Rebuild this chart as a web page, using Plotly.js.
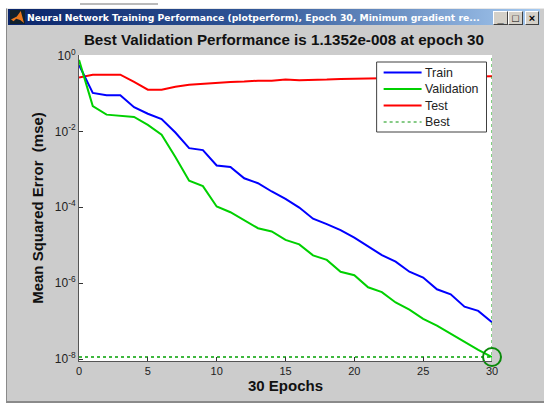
<!DOCTYPE html>
<html>
<head>
<meta charset="utf-8">
<script src="https://cdn.plot.ly/plotly-3.0.1.min.js"></script>
<style>
html,body{margin:0;padding:0;background:#fff;width:544px;height:405px;overflow:hidden}
#win{position:absolute;left:6px;top:8px;width:538px;height:395px;background:#cccccc;border-left:1px solid #8a8a8a;border-top:1px solid #e8e8e8;border-bottom:2px solid #8a8a8a;box-sizing:border-box}
#bar{position:absolute;left:8px;top:9px;width:532px;height:16px;background:linear-gradient(90deg,#0a246a 0%,#2f5596 45%,#a6caf0 100%)}
#ico{position:absolute;left:10px;top:10px;width:15px;height:14px;background:#10202c}
#ico i{position:absolute;left:1px;top:1px;width:13px;height:12px;background:#e8761c;clip-path:polygon(0 70%,45% 45%,75% 0,100% 100%,70% 75%,40% 65%,20% 85%)}
.b{position:absolute;top:11px;height:14px;background:#d4d0c8;border:1px solid;border-color:#fff #404040 #404040 #fff;box-sizing:border-box;font:bold 11px/12px "Liberation Sans",sans-serif;color:#000;text-align:center}
#scrap{position:absolute;left:80px;top:3px;width:78px;height:2px;background:#8c8c8c;opacity:.6}
#plot{position:absolute;left:0;top:0;width:544px;height:405px}
</style>
</head>
<body>
<div id="scrap"></div>
<div id="win"></div>
<div id="bar"></div>
<div id="ico"><i></i></div>
<div class="b" style="left:493px;width:15px">_</div>
<div class="b" style="left:508px;width:15px">&#9633;</div>
<div class="b" style="left:525px;width:14px">&#215;</div>
<div id="plot"></div>
<script>
const epochs = [0,1,2,3,4,5,6,7,8,9,10,11,12,13,14,15,16,17,18,19,20,21,22,23,24,25,26,27,28,29,30];
const train = [5.6e-1,1.03e-1,8.9e-2,8.9e-2,4.3e-2,2.9e-2,2.1e-2,9.3e-3,3.6e-3,3.2e-3,1.26e-3,1.15e-3,5.8e-4,4.3e-4,2.6e-4,1.66e-4,9.8e-5,5.0e-5,3.6e-5,2.5e-5,1.58e-5,9.1e-6,5.5e-6,3.7e-6,2.0e-6,1.41e-6,6.9e-7,5.1e-7,2.4e-7,1.86e-7,9.3e-8];
const validation = [7.6e-1,4.6e-2,2.75e-2,2.6e-2,2.4e-2,1.48e-2,8.1e-3,2.1e-3,5.0e-4,3.6e-4,1.05e-4,7.4e-5,4.6e-5,2.8e-5,2.3e-5,1.38e-5,1.05e-5,5.4e-6,4.1e-6,2.0e-6,1.62e-6,7.8e-7,5.8e-7,3.1e-7,2.0e-7,1.15e-7,7.6e-8,4.6e-8,2.8e-8,1.74e-8,1.1352e-8];
const test = [2.6e-1,3.1e-1,3.1e-1,3.1e-1,2.0e-1,1.25e-1,1.25e-1,1.5e-1,1.68e-1,1.8e-1,1.88e-1,2.0e-1,2.05e-1,2.16e-1,2.16e-1,2.3e-1,2.2e-1,2.3e-1,2.3e-1,2.4e-1,2.4e-1,2.4e-1,2.5e-1,2.57e-1,2.6e-1,2.6e-1,2.65e-1,2.7e-1,2.75e-1,2.8e-1,2.8e-1];
const bestEpoch = 30;
const bestValue = 1.1352e-8;
const yTop = 1.02;
const yLow = 8.9e-9;
const xTickVals = [0,5,10,15,20,25,30];
const yTickVals = [1,1e-2,1e-4,1e-6,1e-8];
const yTickText = ['10<sup>0</sup>','10<sup>-2</sup>','10<sup>-4</sup>','10<sup>-6</sup>','10<sup>-8</sup>'];
const legendNames = ['Train','Validation','Test','Best'];
const colors = {train:'#0000ff',validation:'#00d000',test:'#ff0000',best:'#00a000'};
const titleText = 'Best Validation Performance is 1.1352e-008 at epoch 30';
const barText = 'Neural Network Training Performance (plotperform), Epoch 30, Minimum gradient re...';

const W=544,H=405,L=79,R=51.5,T=55,B=44;
const px = v => (v-L)/(W-L-R);
const py = v => 1-(v-T)/(H-T-B);
const sans = '"Liberation Sans",Arial,sans-serif';

const traces = [
 {x:epochs,y:test,mode:'lines',name:legendNames[2],line:{color:colors.test,width:2}},
 {x:epochs,y:train,mode:'lines',name:legendNames[0],line:{color:colors.train,width:2}},
 {x:epochs,y:validation,mode:'lines',name:legendNames[1],line:{color:colors.validation,width:2}},
 {x:[0,bestEpoch],y:[bestValue,bestValue],mode:'lines',name:legendNames[3],line:{color:colors.best,width:1.5,dash:'3px,3px'},cliponaxis:false},
 {x:[bestEpoch,bestEpoch],y:[yLow,yTop],mode:'lines',showlegend:false,line:{color:colors.best,width:1,dash:'3px,3px'},cliponaxis:false},
 {x:[bestEpoch],y:[bestValue],mode:'markers',showlegend:false,cliponaxis:false,
  marker:{symbol:'circle-open',size:18,color:'#0a8a0a',line:{width:2,color:'#0a8a0a'}}}
];

const legendLeft=377,legendRight=487,legendTop=62,legendBottom=132,rowY=[72.5,89,105.5,122];
const legendColors=[colors.train,colors.validation,colors.test,'#0c960c'];
const shapes=[{type:'rect',xref:'paper',yref:'paper',layer:'above',x0:px(legendLeft),x1:px(legendRight),y0:py(legendBottom),y1:py(legendTop),fillcolor:'#fff',line:{color:'#404040',width:1}}];
const annotations=[{xref:'paper',yref:'paper',x:px(25),y:py(17),xanchor:'left',yanchor:'middle',showarrow:false,text:barText,font:{family:'"DejaVu Sans",sans-serif',size:9.25,color:'#fff',weight:'bold'}}];
legendNames.forEach((n,i)=>{
  shapes.push({type:'line',xref:'paper',yref:'paper',layer:'above',x0:px(384),x1:px(422),y0:py(rowY[i]),y1:py(rowY[i]),line:{color:legendColors[i],width:i==3?1:2,dash:i==3?'3px,3px':'solid'}});
  annotations.push({xref:'paper',yref:'paper',x:px(423.5),y:py(rowY[i]),xanchor:'left',yanchor:'middle',showarrow:false,text:n,font:{family:sans,size:12.4,color:'#222'}});
});

const layout = {
 width:W,height:H,margin:{l:L,r:R,t:T,b:B,pad:0},
 paper_bgcolor:'rgba(0,0,0,0)',plot_bgcolor:'#fff',showlegend:false,
 font:{family:sans,size:11,color:'#222'},
 title:{text:titleText,font:{family:sans,size:15.2,color:'#111',weight:'bold'},x:0.522,xanchor:'center',y:0.902,yanchor:'middle'},
 xaxis:{range:[0,30],tickvals:xTickVals,ticks:'inside',ticklen:4,tickcolor:'#333',showgrid:false,zeroline:false,
  showline:true,linecolor:'#555',linewidth:1,tickfont:{size:11,color:'#222'},
  title:{text:'30 Epochs',font:{size:15,color:'#111',weight:'bold'},standoff:4}},
 yaxis:{type:'log',range:[-8.05,0.01],tickvals:yTickVals,ticktext:yTickText,ticks:'inside',ticklen:4,tickcolor:'#333',showgrid:false,zeroline:false,
  showline:true,linecolor:'#555',linewidth:1,tickfont:{size:12,color:'#222'},
  title:{text:'Mean Squared Error\u00a0\u00a0(mse)',font:{size:15,color:'#111',weight:'bold'},standoff:7}},
 shapes,annotations
};
Plotly.newPlot('plot',traces,layout,{displayModeBar:false,staticPlot:true});
</script>
</body>
</html>
